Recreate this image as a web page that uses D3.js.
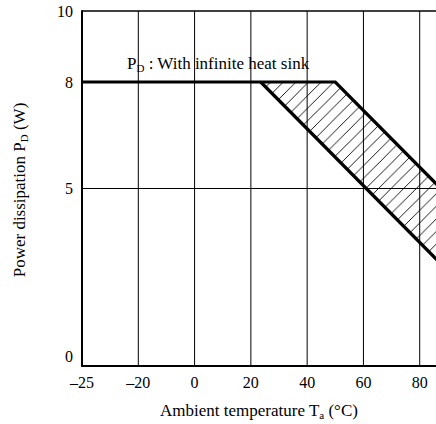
<!DOCTYPE html>
<html>
<head>
<meta charset="utf-8">
<script src="https://cdn.jsdelivr.net/npm/d3@7"></script>
<style>
  body { margin: 0; background: #fff; }
  svg text { font-family: "Liberation Serif", "Times New Roman", serif; fill: #000; }
</style>
</head>
<body>
<div id="chart"></div>
<script>
// data
var xTicks = [-25, -20, 0, 20, 40, 60, 80, 100];
var xTickLabels = ["\u201325", "\u201320", "0", "20", "40", "60", "80", "100"];
var yTicks = [0, 5, 8, 10];
var yGrid = [5];

// P_D curve with infinite heat sink (outer) and the lower edge of the hatched band
var outerT = [-25, 50, 150];
var outerP = [8, 8, 0];
var innerT = [23.5, 123.5];
var innerP = [8, 0];

var chartW = 436, chartH = 424;
var plotLeft = 82, plotTop = 11, plotBottom = 366;

var svg = d3.select("#chart").append("svg")
  .attr("width", chartW)
  .attr("height", chartH);

// broken axis: -25..-20 takes one full grid step
var x = d3.scaleLinear()
  .domain([-25, -20, 100])
  .range([plotLeft, 138.3, 476]);

var y = d3.scaleLinear()
  .domain([0, 10])
  .range([plotBottom, plotTop]);

var defs = svg.append("defs");
var pat = defs.append("pattern")
  .attr("id", "hatch")
  .attr("patternUnits", "userSpaceOnUse")
  .attr("width", 12.6)
  .attr("height", 12.6);
pat.append("path")
  .attr("d", "M0,12.6 L12.6,0 M-3,3 L3,-3 M9.6,15.6 L15.6,9.6")
  .attr("stroke", "#000")
  .attr("stroke-width", 0.9);

// grid
svg.append("g").selectAll("line")
  .data(xTicks.slice(1))
  .enter().append("line")
  .attr("x1", function(d) { return x(d); })
  .attr("x2", function(d) { return x(d); })
  .attr("y1", y(10))
  .attr("y2", y(0))
  .attr("stroke", "#000")
  .attr("stroke-width", 1);

svg.append("g").selectAll("line")
  .data(yGrid)
  .enter().append("line")
  .attr("x1", x(-25))
  .attr("x2", chartW)
  .attr("y1", function(d) { return y(d); })
  .attr("y2", function(d) { return y(d); })
  .attr("stroke", "#000")
  .attr("stroke-width", 1);

// hatched band between the two lines
var band = innerT.map(function(t, i) { return [t, innerP[i]]; });
var poly = [band[0], [outerT[1], outerP[1]], [outerT[2], outerP[2]], band[1]];
var line = d3.line()
  .x(function(d) { return x(d[0]); })
  .y(function(d) { return y(d[1]); });

svg.append("path")
  .attr("d", line(poly) + "Z")
  .attr("fill", "url(#hatch)")
  .attr("stroke", "none");

// frame: top border, left and bottom axes
svg.append("line")
  .attr("x1", x(-25)).attr("x2", chartW)
  .attr("y1", y(10)).attr("y2", y(10))
  .attr("stroke", "#000").attr("stroke-width", 1.4);
svg.append("line")
  .attr("x1", x(-25)).attr("x2", x(-25))
  .attr("y1", y(10) - 0.7).attr("y2", y(0) + 1)
  .attr("stroke", "#000").attr("stroke-width", 2);
svg.append("line")
  .attr("x1", x(-25) - 1).attr("x2", chartW)
  .attr("y1", y(0)).attr("y2", y(0))
  .attr("stroke", "#000").attr("stroke-width", 2);

svg.append("path")
  .attr("d", line(outerT.map(function(t, i) { return [t, outerP[i]]; })))
  .attr("fill", "none")
  .attr("stroke", "#000")
  .attr("stroke-width", 3.2)
  .attr("stroke-linejoin", "miter");

svg.append("path")
  .attr("d", line(band))
  .attr("fill", "none")
  .attr("stroke", "#000")
  .attr("stroke-width", 3.2);

// tick labels
svg.append("g").selectAll("text")
  .data(xTicks.slice(0, 7))
  .enter().append("text")
  .attr("x", function(d) { return x(d); })
  .attr("y", 388)
  .attr("text-anchor", "middle")
  .attr("font-size", "16px")
  .text(function(d, i) { return xTickLabels[i]; });

svg.append("g").selectAll("text")
  .data(yTicks)
  .enter().append("text")
  .attr("x", 73)
  .attr("y", function(d) { return d == 0 ? y(d) - 10 : y(d); })
  .attr("dy", "0.35em")
  .attr("text-anchor", "end")
  .attr("font-size", "16px")
  .text(function(d) { return d; });

// curve label
var lab = svg.append("text")
  .attr("x", 127)
  .attr("y", 69)
  .attr("font-size", "17px");
lab.append("tspan").text("P");
lab.append("tspan").attr("font-size", "11px").attr("dy", 3).text("D");
lab.append("tspan").attr("dy", -3).text(" : With infinite heat sink");

// axis titles
var xt = svg.append("text")
  .attr("x", 259)
  .attr("y", 416)
  .attr("text-anchor", "middle")
  .attr("font-size", "17px");
xt.append("tspan").text("Ambient temperature T");
xt.append("tspan").attr("font-size", "11px").attr("dy", 3).text("a");
xt.append("tspan").attr("dy", -3).text(" (\u00b0C)");

var yt = svg.append("text")
  .attr("transform", "translate(25,190) rotate(-90)")
  .attr("text-anchor", "middle")
  .attr("font-size", "17px");
yt.append("tspan").text("Power dissipation P");
yt.append("tspan").attr("font-size", "11px").attr("dy", 3).text("D");
yt.append("tspan").attr("dy", -3).text(" (W)");
</script>
</body>
</html>
